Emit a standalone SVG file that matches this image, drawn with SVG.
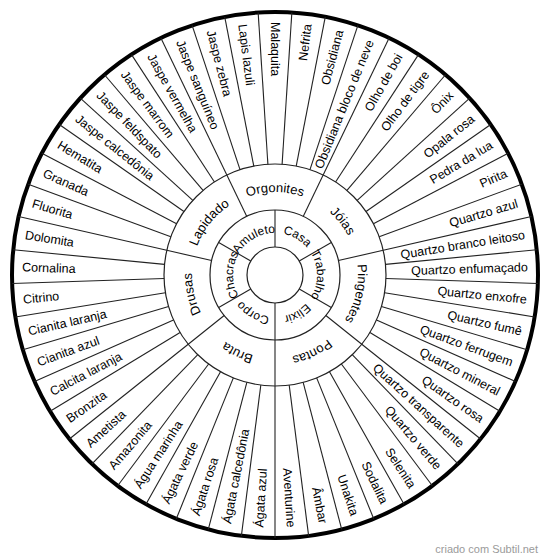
<svg xmlns="http://www.w3.org/2000/svg" width="550" height="559" viewBox="0 0 550 559">
<style>
text{font-family:"Liberation Sans",Arial,sans-serif;fill:#000}
.o{font-size:12.5px}
.c{font-size:13px}
.r{font-size:12px}
.ln{stroke:#222;stroke-width:1.1;fill:none}
.rc{fill:none;stroke:#222;stroke-width:1.2}
.wm{font-size:11px;fill:#9a9a9a}
</style>
<defs>
<line id="d" class="ln" x1="275" y1="164" x2="275" y2="12"/>
<line id="dc" class="ln" x1="275" y1="210" x2="275" y2="164"/>
<line id="dr" class="ln" x1="275" y1="247" x2="275" y2="210"/>
<path id="arcR" d="M239.38,252.74 A42,42 0 0 1 310.62,252.74" fill="none"/>
<path id="arcC" d="M239.92,199.78 A83,83 0 0 1 310.08,199.78" fill="none"/>
</defs>
<rect width="550" height="559" fill="#fff"/>
<g id="rings">
<circle class="rc" cx="275" cy="275" r="111"/>
<circle class="rc" cx="275" cy="275" r="65"/>
<circle class="rc" cx="275" cy="275" r="28"/>
<circle cx="275" cy="275" r="263" fill="none" stroke="#000" stroke-width="4"/>
</g>
<g id="connectors">
<use href="#d" transform="rotate(3.673 275 275)"/>
<use href="#d" transform="rotate(11.020 275 275)"/>
<use href="#d" transform="rotate(18.367 275 275)"/>
<use href="#d" transform="rotate(25.714 275 275)"/>
<use href="#d" transform="rotate(33.061 275 275)"/>
<use href="#d" transform="rotate(40.408 275 275)"/>
<use href="#d" transform="rotate(47.755 275 275)"/>
<use href="#d" transform="rotate(55.102 275 275)"/>
<use href="#d" transform="rotate(62.449 275 275)"/>
<use href="#d" transform="rotate(69.796 275 275)"/>
<use href="#d" transform="rotate(77.143 275 275)"/>
<use href="#d" transform="rotate(84.490 275 275)"/>
<use href="#d" transform="rotate(91.837 275 275)"/>
<use href="#d" transform="rotate(99.184 275 275)"/>
<use href="#d" transform="rotate(106.531 275 275)"/>
<use href="#d" transform="rotate(113.878 275 275)"/>
<use href="#d" transform="rotate(121.224 275 275)"/>
<use href="#d" transform="rotate(128.571 275 275)"/>
<use href="#d" transform="rotate(135.918 275 275)"/>
<use href="#d" transform="rotate(143.265 275 275)"/>
<use href="#d" transform="rotate(150.612 275 275)"/>
<use href="#d" transform="rotate(157.959 275 275)"/>
<use href="#d" transform="rotate(165.306 275 275)"/>
<use href="#d" transform="rotate(172.653 275 275)"/>
<use href="#d" transform="rotate(180 275 275)"/>
<use href="#d" transform="rotate(187.347 275 275)"/>
<use href="#d" transform="rotate(194.694 275 275)"/>
<use href="#d" transform="rotate(202.041 275 275)"/>
<use href="#d" transform="rotate(209.388 275 275)"/>
<use href="#d" transform="rotate(216.735 275 275)"/>
<use href="#d" transform="rotate(224.082 275 275)"/>
<use href="#d" transform="rotate(231.429 275 275)"/>
<use href="#d" transform="rotate(238.776 275 275)"/>
<use href="#d" transform="rotate(246.122 275 275)"/>
<use href="#d" transform="rotate(253.469 275 275)"/>
<use href="#d" transform="rotate(260.816 275 275)"/>
<use href="#d" transform="rotate(268.163 275 275)"/>
<use href="#d" transform="rotate(275.510 275 275)"/>
<use href="#d" transform="rotate(282.857 275 275)"/>
<use href="#d" transform="rotate(290.204 275 275)"/>
<use href="#d" transform="rotate(297.551 275 275)"/>
<use href="#d" transform="rotate(304.898 275 275)"/>
<use href="#d" transform="rotate(312.245 275 275)"/>
<use href="#d" transform="rotate(319.592 275 275)"/>
<use href="#d" transform="rotate(326.939 275 275)"/>
<use href="#d" transform="rotate(334.286 275 275)"/>
<use href="#d" transform="rotate(341.633 275 275)"/>
<use href="#d" transform="rotate(348.980 275 275)"/>
<use href="#d" transform="rotate(356.327 275 275)"/>
<use href="#dc" transform="rotate(25.714 275 275)"/>
<use href="#dc" transform="rotate(77.143 275 275)"/>
<use href="#dc" transform="rotate(128.571 275 275)"/>
<use href="#dc" transform="rotate(180 275 275)"/>
<use href="#dc" transform="rotate(231.429 275 275)"/>
<use href="#dc" transform="rotate(282.857 275 275)"/>
<use href="#dc" transform="rotate(334.286 275 275)"/>
<use href="#dr"/>
<use href="#dr" transform="rotate(60 275 275)"/>
<use href="#dr" transform="rotate(120 275 275)"/>
<use href="#dr" transform="rotate(180 275 275)"/>
<use href="#dr" transform="rotate(240 275 275)"/>
<use href="#dr" transform="rotate(300 275 275)"/>
</g>
<g id="inner">
<g id="casa"><text class="r" transform="rotate(30 275 275)"><textPath href="#arcR" startOffset="50%" text-anchor="middle">Casa</textPath></text></g>
<g id="trabalho"><text class="r" transform="rotate(90 275 275)"><textPath href="#arcR" startOffset="50%" text-anchor="middle">Trabalho</textPath></text></g>
<g id="elixir"><text class="r" transform="rotate(150 275 275)"><textPath href="#arcR" startOffset="50%" text-anchor="middle">Elixir</textPath></text></g>
<g id="corpo"><text class="r" transform="rotate(210 275 275)"><textPath href="#arcR" startOffset="50%" text-anchor="middle">Corpo</textPath></text></g>
<g id="chacras"><text class="r" transform="rotate(270 275 275)"><textPath href="#arcR" startOffset="50%" text-anchor="middle">Chacras</textPath></text></g>
<g id="amuleto"><text class="r" transform="rotate(330 275 275)"><textPath href="#arcR" startOffset="50%" text-anchor="middle">Amuleto</textPath></text></g>
</g>
<g id="categories">
<g id="orgonites"><text class="c"><textPath href="#arcC" startOffset="50%" text-anchor="middle">Orgonites</textPath></text></g>
<g id="joias"><text class="c" transform="rotate(51.429 275 275)"><textPath href="#arcC" startOffset="50%" text-anchor="middle">Jóias</textPath></text></g>
<g id="pingentes"><text class="c" transform="rotate(102.857 275 275)"><textPath href="#arcC" startOffset="50%" text-anchor="middle">Pingentes</textPath></text></g>
<g id="pontas"><text class="c" transform="rotate(154.286 275 275)"><textPath href="#arcC" startOffset="50%" text-anchor="middle">Pontas</textPath></text></g>
<g id="bruta"><text class="c" transform="rotate(205.714 275 275)"><textPath href="#arcC" startOffset="50%" text-anchor="middle">Bruta</textPath></text></g>
<g id="drusas"><text class="c" transform="rotate(257.143 275 275)"><textPath href="#arcC" startOffset="50%" text-anchor="middle">Drusas</textPath></text></g>
<g id="lapidado"><text class="c" transform="rotate(308.571 275 275)"><textPath href="#arcC" startOffset="50%" text-anchor="middle">Lapidado</textPath></text></g>
</g>
<g id="stones-left" class="o">
<text class="o" x="22" y="275" dy="0.35em" transform="rotate(-86.327 275 275)">Ágata azul</text>
<text class="o" x="22" y="275" dy="0.35em" transform="rotate(-78.980 275 275)">Ágata calcedônia</text>
<text class="o" x="22" y="275" dy="0.35em" transform="rotate(-71.633 275 275)">Ágata rosa</text>
<text class="o" x="22" y="275" dy="0.35em" transform="rotate(-64.286 275 275)">Ágata verde</text>
<text class="o" x="22" y="275" dy="0.35em" transform="rotate(-56.939 275 275)">Água marinha</text>
<text class="o" x="22" y="275" dy="0.35em" transform="rotate(-49.592 275 275)">Amazonita</text>
<text class="o" x="22" y="275" dy="0.35em" transform="rotate(-42.245 275 275)">Ametista</text>
<text class="o" x="22" y="275" dy="0.35em" transform="rotate(-34.898 275 275)">Bronzita</text>
<text class="o" x="22" y="275" dy="0.35em" transform="rotate(-27.551 275 275)">Calcita laranja</text>
<text class="o" x="22" y="275" dy="0.35em" transform="rotate(-20.204 275 275)">Cianita azul</text>
<text class="o" x="22" y="275" dy="0.35em" transform="rotate(-12.857 275 275)">Cianita laranja</text>
<text class="o" x="22" y="275" dy="0.35em" transform="rotate(-5.510 275 275)">Citrino</text>
<text class="o" x="22" y="275" dy="0.35em" transform="rotate(1.837 275 275)">Cornalina</text>
<text class="o" x="22" y="275" dy="0.35em" transform="rotate(9.184 275 275)">Dolomita</text>
<text class="o" x="22" y="275" dy="0.35em" transform="rotate(16.531 275 275)">Fluorita</text>
<text class="o" x="22" y="275" dy="0.35em" transform="rotate(23.878 275 275)">Granada</text>
<text class="o" x="22" y="275" dy="0.35em" transform="rotate(31.224 275 275)">Hematita</text>
<text class="o" x="22" y="275" dy="0.35em" transform="rotate(38.571 275 275)">Jaspe calcedônia</text>
<text class="o" x="22" y="275" dy="0.35em" transform="rotate(45.918 275 275)">Jaspe feldspato</text>
<text class="o" x="22" y="275" dy="0.35em" transform="rotate(53.265 275 275)">Jaspe marrom</text>
<text class="o" x="22" y="275" dy="0.35em" transform="rotate(60.612 275 275)">Jaspe vermelha</text>
<text class="o" x="22" y="275" dy="0.35em" transform="rotate(67.959 275 275)">Jaspe sanguíneo</text>
<text class="o" x="22" y="275" dy="0.35em" transform="rotate(75.306 275 275)">Jaspe zebra</text>
<text class="o" x="22" y="275" dy="0.35em" transform="rotate(82.653 275 275)">Lapis lazuli</text>
<text class="o" x="22" y="275" dy="0.35em" transform="rotate(90 275 275)">Malaquita</text>
</g>
<g id="stones-right" class="o">
<text class="o" x="528" y="275" dy="0.35em" text-anchor="end" transform="rotate(-82.653 275 275)">Nefrita</text>
<text class="o" x="528" y="275" dy="0.35em" text-anchor="end" transform="rotate(-75.306 275 275)">Obsidiana</text>
<text class="o" x="528" y="275" dy="0.35em" text-anchor="end" transform="rotate(-67.959 275 275)">Obsidiana bloco de neve</text>
<text class="o" x="528" y="275" dy="0.35em" text-anchor="end" transform="rotate(-60.612 275 275)">Olho de boi</text>
<text class="o" x="528" y="275" dy="0.35em" text-anchor="end" transform="rotate(-53.265 275 275)">Olho de tigre</text>
<text class="o" x="528" y="275" dy="0.35em" text-anchor="end" transform="rotate(-45.918 275 275)">Ônix</text>
<text class="o" x="528" y="275" dy="0.35em" text-anchor="end" transform="rotate(-38.571 275 275)">Opala rosa</text>
<text class="o" x="528" y="275" dy="0.35em" text-anchor="end" transform="rotate(-31.224 275 275)">Pedra da lua</text>
<text class="o" x="528" y="275" dy="0.35em" text-anchor="end" transform="rotate(-23.878 275 275)">Pirita</text>
<text class="o" x="528" y="275" dy="0.35em" text-anchor="end" transform="rotate(-16.531 275 275)">Quartzo azul</text>
<text class="o" x="528" y="275" dy="0.35em" text-anchor="end" transform="rotate(-9.184 275 275)">Quartzo branco leitoso</text>
<text class="o" x="528" y="275" dy="0.35em" text-anchor="end" transform="rotate(-1.837 275 275)">Quartzo enfumaçado</text>
<text class="o" x="528" y="275" dy="0.35em" text-anchor="end" transform="rotate(5.510 275 275)">Quartzo enxofre</text>
<text class="o" x="528" y="275" dy="0.35em" text-anchor="end" transform="rotate(12.857 275 275)">Quartzo fumê</text>
<text class="o" x="528" y="275" dy="0.35em" text-anchor="end" transform="rotate(20.204 275 275)">Quartzo ferrugem</text>
<text class="o" x="528" y="275" dy="0.35em" text-anchor="end" transform="rotate(27.551 275 275)">Quartzo mineral</text>
<text class="o" x="528" y="275" dy="0.35em" text-anchor="end" transform="rotate(34.898 275 275)">Quartzo rosa</text>
<text class="o" x="528" y="275" dy="0.35em" text-anchor="end" transform="rotate(42.245 275 275)">Quartzo transparente</text>
<text class="o" x="528" y="275" dy="0.35em" text-anchor="end" transform="rotate(49.592 275 275)">Quartzo verde</text>
<text class="o" x="528" y="275" dy="0.35em" text-anchor="end" transform="rotate(56.939 275 275)">Selenita</text>
<text class="o" x="528" y="275" dy="0.35em" text-anchor="end" transform="rotate(64.286 275 275)">Sodalita</text>
<text class="o" x="528" y="275" dy="0.35em" text-anchor="end" transform="rotate(71.633 275 275)">Unakita</text>
<text class="o" x="528" y="275" dy="0.35em" text-anchor="end" transform="rotate(78.980 275 275)">Âmbar</text>
<text class="o" x="528" y="275" dy="0.35em" text-anchor="end" transform="rotate(86.327 275 275)">Aventurine</text>
</g>
<text class="wm" x="538" y="553" text-anchor="end">criado com Subtil.net</text>
</svg>
